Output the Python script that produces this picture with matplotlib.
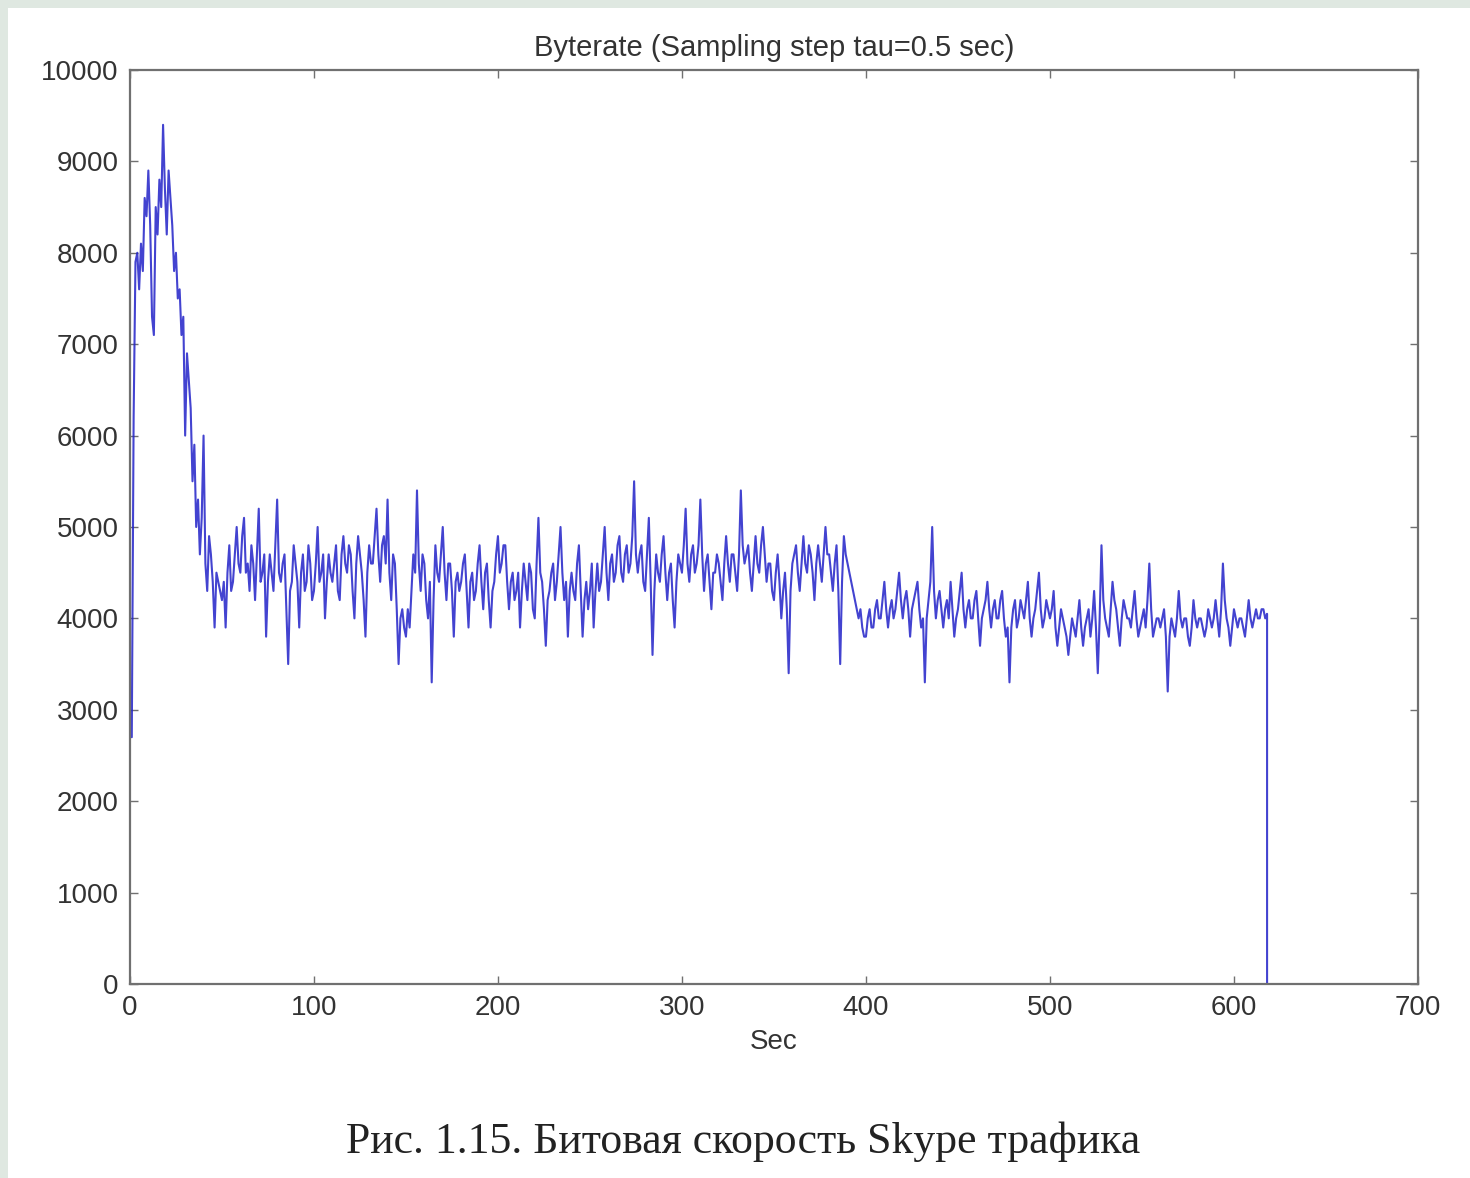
"""
Skype traffic byterate trace (MATLAB-style figure with caption).

Output:
    out.png
"""

import matplotlib

matplotlib.use("Agg")

import matplotlib.pyplot as plt
import numpy as np
from matplotlib.patches import Rectangle

# values, resampled every 1 s
STEP_SEC = 1.0
BYTERATE = [
    3200, 2700, 6200, 7900, 8000, 7600, 8100, 7800, 8600, 8400,
    8900, 8300, 7300, 7100, 8500, 8200, 8800, 8500, 9400, 8700,
    8200, 8900, 8600, 8300, 7800, 8000, 7500, 7600, 7100, 7300,
    6000, 6900, 6600, 6300, 5500, 5900, 5000, 5300, 4700, 5100,
    6000, 4600, 4300, 4900, 4700, 4400, 3900, 4500, 4400, 4300,
    4200, 4400, 3900, 4500, 4800, 4300, 4400, 4700, 5000, 4600,
    4500, 4900, 5100, 4500, 4600, 4300, 4800, 4600, 4200, 4700,
    5200, 4400, 4500, 4700, 3800, 4400, 4700, 4500, 4300, 4800,
    5300, 4500, 4400, 4600, 4700, 4100, 3500, 4300, 4400, 4800,
    4600, 4400, 3900, 4500, 4700, 4300, 4400, 4800, 4600, 4200,
    4300, 4600, 5000, 4400, 4500, 4700, 4000, 4400, 4700, 4500,
    4400, 4600, 4800, 4300, 4200, 4700, 4900, 4600, 4500, 4800,
    4700, 4300, 4000, 4600, 4900, 4700, 4500, 4200, 3800, 4500,
    4800, 4600, 4600, 4900, 5200, 4700, 4400, 4800, 4900, 4600,
    5300, 4500, 4200, 4700, 4600, 4100, 3500, 4000, 4100, 3900,
    3800, 4100, 3900, 4300, 4700, 4500, 5400, 4600, 4300, 4700,
    4600, 4200, 4000, 4400, 3300, 4200, 4800, 4500, 4400, 4700,
    5000, 4500, 4200, 4600, 4600, 4300, 3800, 4400, 4500, 4300,
    4400, 4600, 4700, 4300, 3900, 4400, 4500, 4200, 4300, 4600,
    4800, 4400, 4100, 4500, 4600, 4200, 3900, 4300, 4400, 4700,
    4900, 4500, 4600, 4800, 4800, 4400, 4100, 4400, 4500, 4200,
    4300, 4500, 3900, 4300, 4600, 4400, 4200, 4600, 4500, 4100,
    4000, 4600, 5100, 4500, 4400, 4100, 3700, 4200, 4300, 4500,
    4600, 4200, 4400, 4700, 5000, 4500, 4200, 4400, 3800, 4300,
    4500, 4300, 4200, 4600, 4800, 4300, 3800, 4200, 4400, 4100,
    4300, 4600, 3900, 4300, 4600, 4300, 4400, 4700, 5000, 4500,
    4200, 4600, 4700, 4400, 4500, 4800, 4900, 4500, 4400, 4700,
    4800, 4500, 4600, 4900, 5500, 4700, 4500, 4700, 4800, 4400,
    4300, 4700, 5100, 4400, 3600, 4300, 4700, 4500, 4400, 4700,
    4900, 4500, 4200, 4500, 4600, 4200, 3900, 4400, 4700, 4600,
    4500, 4800, 5200, 4600, 4400, 4700, 4800, 4500, 4600, 4800,
    5300, 4700, 4300, 4600, 4700, 4400, 4100, 4500, 4500, 4700,
    4600, 4400, 4200, 4600, 4900, 4600, 4400, 4700, 4700, 4500,
    4300, 4700, 5400, 4800, 4600, 4700, 4800, 4500, 4300, 4600,
    4900, 4600, 4500, 4800, 5000, 4700, 4400, 4600, 4600, 4300,
    4200, 4500, 4700, 4400, 4000, 4300, 4500, 4100, 3400, 4300,
    4600, 4700, 4800, 4500, 4300, 4600, 4900, 4600, 4500, 4800,
    4700, 4500, 4200, 4600, 4800, 4600, 4400, 4700, 5000, 4700,
    4700, 4500, 4300, 4600, 4800, 4300, 3500, 4400, 4900, 4700,
    4600, 4500, 4400, 4300, 4200, 4100, 4000, 4100, 3900, 3800,
    3800, 4000, 4100, 3900, 3900, 4100, 4200, 4000, 4000, 4200,
    4400, 4100, 3900, 4100, 4200, 4000, 4100, 4300, 4500, 4200,
    4000, 4200, 4300, 4100, 3800, 4100, 4200, 4300, 4400, 4100,
    3900, 4000, 3300, 4000, 4200, 4400, 5000, 4300, 4000, 4200,
    4300, 4100, 3900, 4100, 4200, 4000, 4400, 4100, 3800, 4000,
    4100, 4300, 4500, 4100, 3900, 4100, 4200, 4000, 4000, 4200,
    4300, 4000, 3700, 4000, 4100, 4200, 4400, 4100, 3900, 4100,
    4200, 4000, 4000, 4200, 4300, 4000, 3800, 3900, 3300, 3900,
    4100, 4200, 3900, 4000, 4200, 4100, 4000, 4200, 4400, 4000,
    3800, 4000, 4100, 4300, 4500, 4100, 3900, 4000, 4200, 4100,
    4000, 4100, 4300, 3900, 3700, 3900, 4100, 4000, 3900, 3800,
    3600, 3800, 4000, 3900, 3800, 4000, 4200, 3900, 3700, 3900,
    4000, 4100, 3800, 4000, 4300, 3900, 3400, 4000, 4800, 4200,
    4000, 3900, 3800, 4100, 4400, 4200, 4100, 3900, 3700, 4000,
    4200, 4100, 4000, 4000, 3900, 4100, 4300, 4000, 3800, 3900,
    4000, 4100, 3900, 4200, 4600, 4100, 3800, 3900, 4000, 4000,
    3900, 4000, 4100, 3800, 3200, 3800, 4000, 3900, 3800, 4000,
    4300, 4000, 3900, 4000, 4000, 3800, 3700, 3900, 4200, 4000,
    3900, 4000, 4000, 3900, 3800, 3900, 4100, 4000, 3900, 4000,
    4200, 4000, 3800, 4100, 4600, 4200, 4000, 3900, 3700, 3900,
    4100, 4000, 3900, 4000, 4000, 3900, 3800, 4000, 4200, 4000,
    3900, 4000, 4100, 4000, 4000, 4100, 4100, 4000, 4050,
]
END_VALUE = 0  # trace drops to zero when the capture stops

TITLE = "Byterate (Sampling step tau=0.5 sec)"
X_LABEL = "Sec"
CAPTION = "Рис. 1.15. Битовая скорость Skype трафика"
X_TICKS = list(range(0, 701, 100))
Y_TICKS = list(range(0, 10001, 1000))

LINE_COLOR = "#2222c8"
AXIS_COLOR = "#707070"
TEXT_COLOR = "#333333"
BORDER_COLOR = "#dfe8e1"


def main() -> None:
    plt.rcParams.update(
        {
            "font.family": ["Liberation Sans", "DejaVu Sans"],
            "xtick.direction": "in",
            "ytick.direction": "in",
        }
    )

    fig = plt.figure(figsize=(14.7, 11.78), dpi=100)
    fig.patch.set_facecolor("white")
    # slide background showing at the left and top edges
    fig.patches.append(Rectangle((0, 0), 0.0055, 1, transform=fig.transFigure,
                                 facecolor=BORDER_COLOR, edgecolor="none"))
    fig.patches.append(Rectangle((0, 0.993), 1, 0.007, transform=fig.transFigure,
                                 facecolor=BORDER_COLOR, edgecolor="none"))

    ax = fig.add_axes([0.0884, 0.1647, 0.8762, 0.7759])

    values = np.asarray(BYTERATE, dtype=float)
    times = np.arange(len(values)) * STEP_SEC
    times = np.append(times, times[-1])
    values = np.append(values, END_VALUE)
    ax.plot(times, values, color=LINE_COLOR, linewidth=1.5, alpha=0.85)

    ax.set_xlim(0, 700)
    ax.set_ylim(0, 10000)
    ax.set_xticks(X_TICKS)
    ax.set_yticks(Y_TICKS)
    ax.tick_params(axis="both", which="major", labelsize=20, colors=AXIS_COLOR,
                   labelcolor=TEXT_COLOR, length=6, width=1.0, pad=8,
                   top=True, right=True)
    for spine in ax.spines.values():
        spine.set_color(AXIS_COLOR)
        spine.set_linewidth(1.6)

    ax.set_title(TITLE, fontsize=21, color=TEXT_COLOR, pad=10)
    ax.set_xlabel(X_LABEL, fontsize=20, color=TEXT_COLOR, labelpad=6)

    fig.text(743 / 1470, 1 - 1142 / 1178, CAPTION, ha="center", va="center",
             fontsize=31.5, color="#222222", family=["Liberation Serif", "DejaVu Serif"])

    fig.savefig("out.png", dpi=100, facecolor="white")
    plt.close(fig)


if __name__ == "__main__":
    main()
